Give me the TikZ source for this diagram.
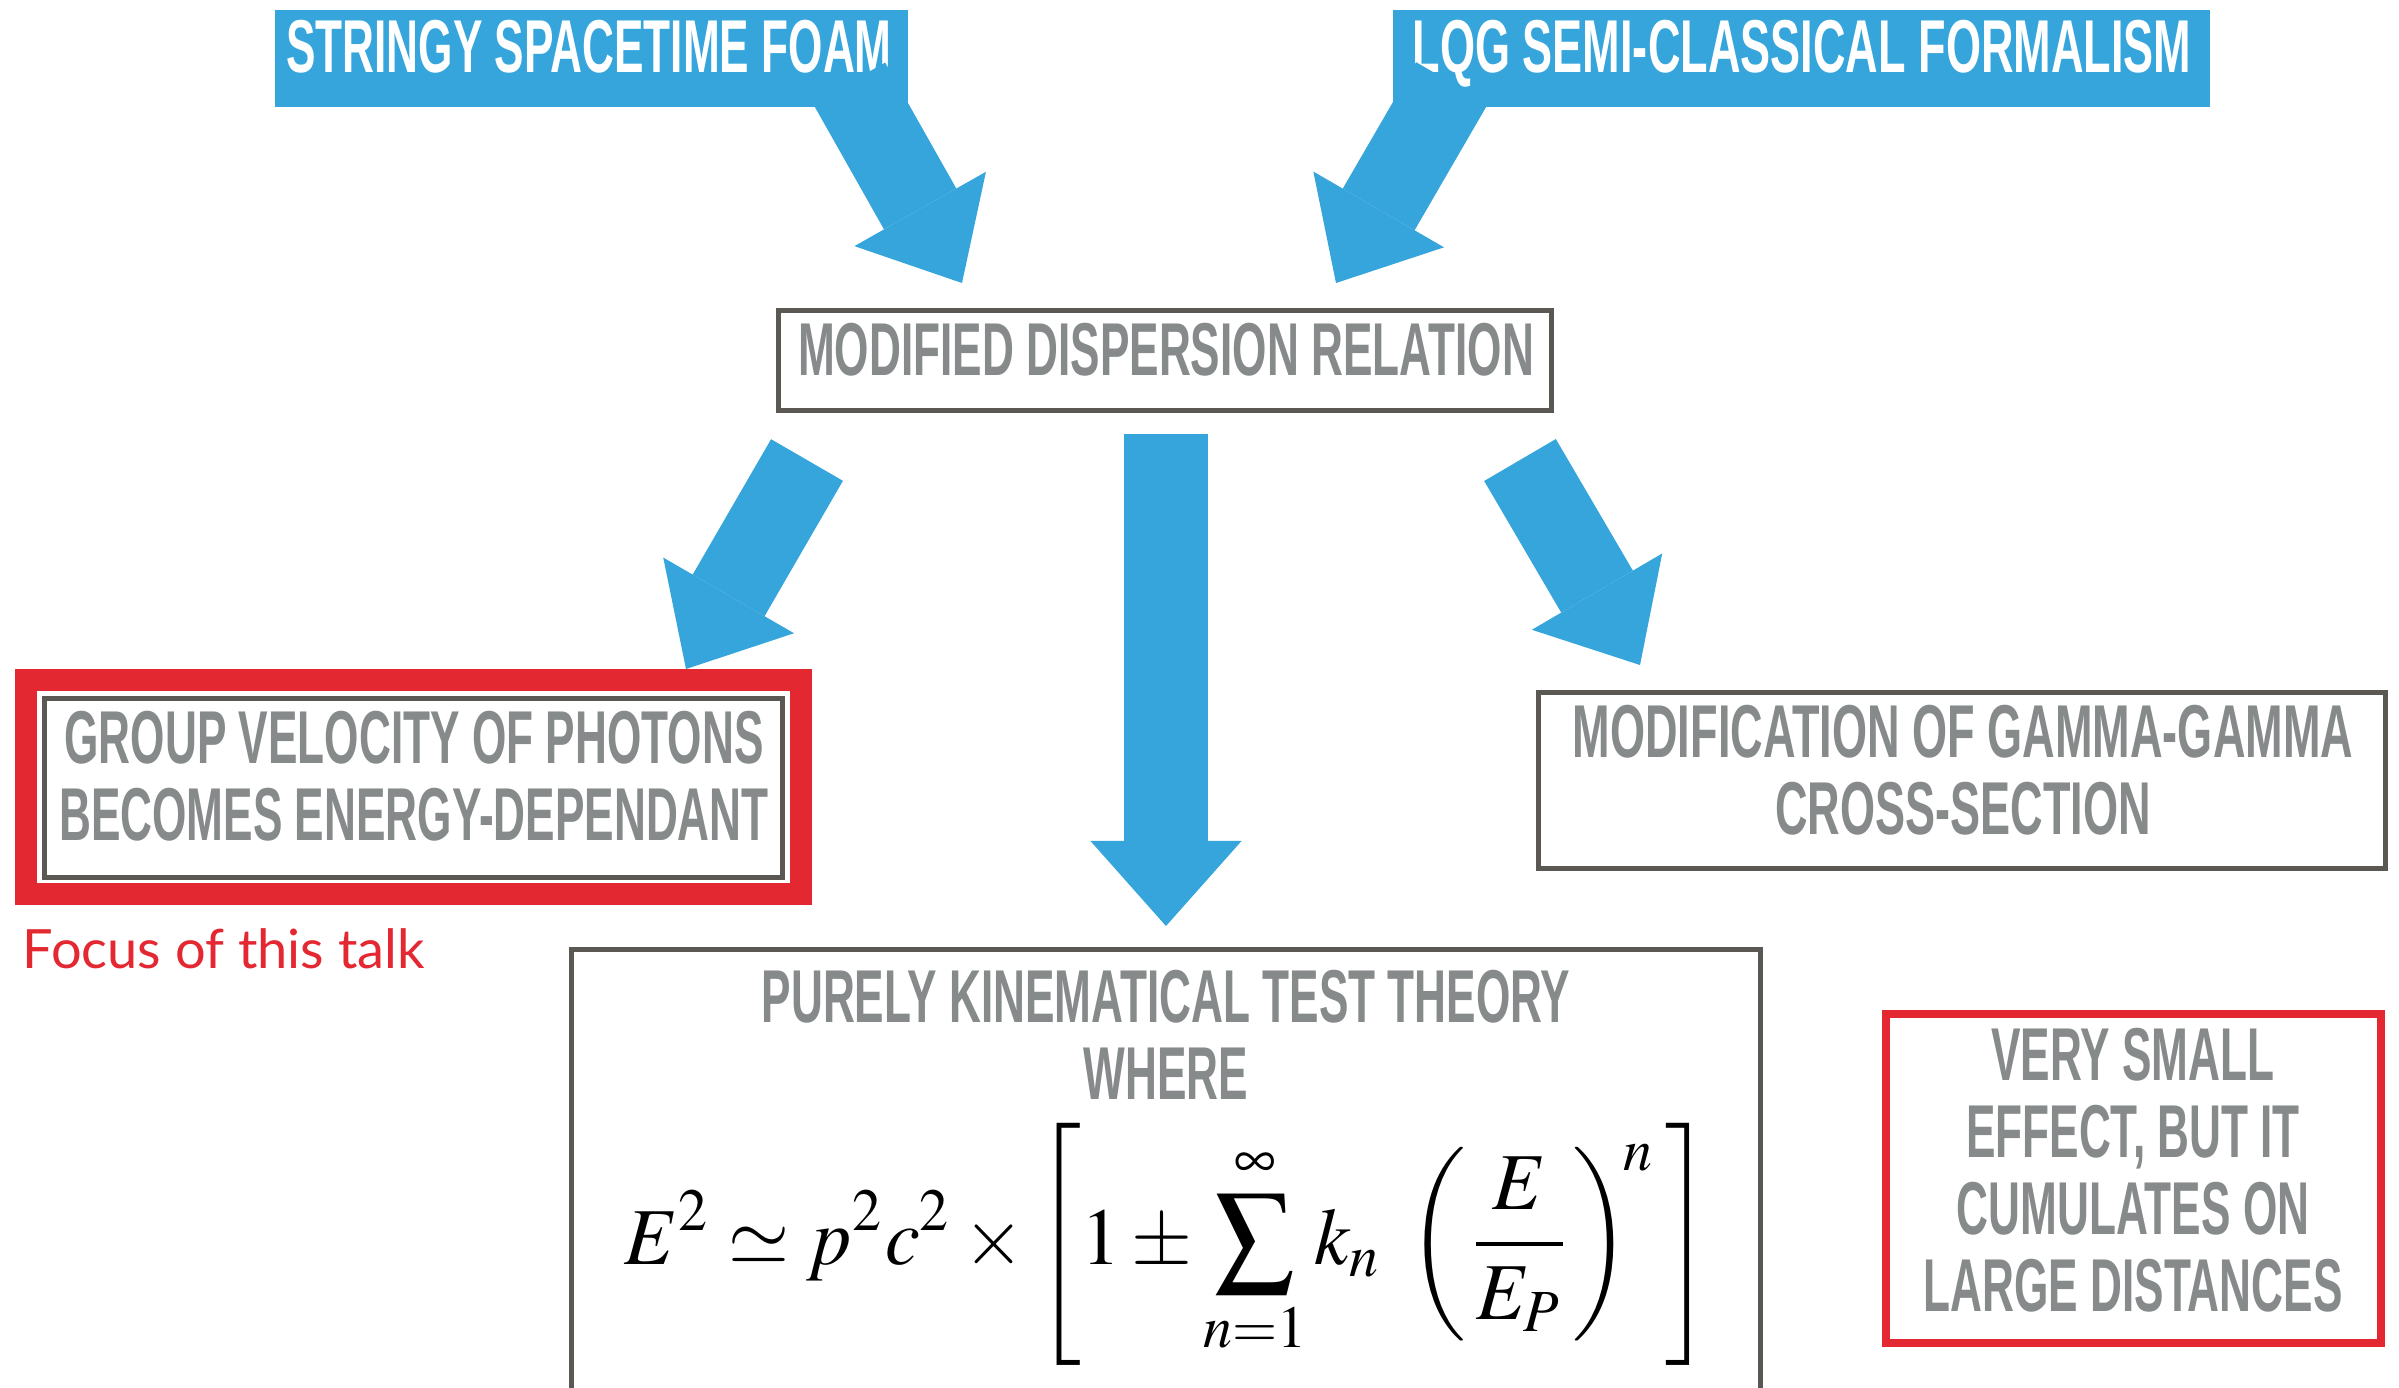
\documentclass[tikz,border=0pt]{standalone}
\usepackage{mathptmx}
\usepackage{fontspec}
\usepackage{graphicx}
\usetikzlibrary{arrows.meta}
\newfontfamily\dinfont{Liberation Sans}[FakeStretch=0.59]
\newfontfamily\focusfont{Lato}
\definecolor{skyb}{RGB}{53,165,219}
\definecolor{txtgray}{RGB}{134,138,138}
\definecolor{framegray}{RGB}{91,88,84}
\definecolor{hired}{RGB}{227,40,50}
\tikzset{
  bluebox/.style={fill=skyb, draw=none, inner sep=0pt, anchor=north west},
  graybox/.style={draw=framegray, line width=0.05cm, fill=white, inner sep=0pt},
  redframe/.style={draw=hired, inner sep=0pt},
  lbl/.style={inner sep=0pt, anchor=north, align=center, font=\dinfont\bfseries\fontsize{21.3}{21.9}\selectfont},
  whitelbl/.style={lbl, text=white},
  graylbl/.style={lbl, text=txtgray},
  fatarrow/.style={draw=skyb, line width=0.83cm, -{Triangle[length=0.85cm,width=1.51cm,line width=0pt]}},
}
\begin{document}
\begin{tikzpicture}[x=0.01cm, y=-0.01cm]
\clip (0,0) rectangle (2399,1387);
\fill[white] (0,0) rectangle (2399,1387);
% top source boxes
\node[bluebox, minimum width=6.33cm, minimum height=0.97cm] (sf) at (274,9) {};
\node[bluebox, minimum width=8.17cm, minimum height=0.97cm] (lqg) at (1392,9) {};
\node[whitelbl] (sft) at (589,19) {STRINGY SPACETIME FOAM};
\node[whitelbl, xscale=1.02] (lqgt) at (1802,19) {LQG SEMI-CLASSICAL FORMALISM};
% arrow end points
\coordinate (a1s) at (849,83);   \coordinate (a1e) at (962,283);
\coordinate (a2s) at (1452,83);  \coordinate (a2e) at (1336,283);
\coordinate (a3s) at (807,460);  \coordinate (a3e) at (686,669);
\coordinate (a4s) at (1520,460); \coordinate (a4e) at (1640,665);
\coordinate (a5s) at (1166,434); \coordinate (a5e) at (1166,926);
\draw[fatarrow] (a1s) -- (a1e);
\draw[fatarrow] (a2s) -- (a2e);
% central box
\node[graybox, minimum width=7.73cm, minimum height=1.00cm] (mdr) at (1165,360.5) {};
\node[graylbl] (mdrt) at (1166,322) {MODIFIED DISPERSION RELATION};
\draw[fatarrow] (a3s) -- (a3e);
\draw[fatarrow] (a4s) -- (a4e);
\draw[fatarrow] (a5s) -- (a5e);
% left highlighted box
\node[redframe, line width=0.22cm, minimum width=7.75cm, minimum height=2.14cm] (grpred) at (413.5,787) {};
\node[graybox, minimum width=7.38cm, minimum height=1.79cm] (grp) at (413.5,788) {};
\node[graylbl] (grpt) at (414,710) {GROUP VELOCITY OF PHOTONS\\BECOMES ENERGY-DEPENDANT};
\node[inner sep=0pt, anchor=base west, text=hired, font=\focusfont\fontsize{15.4}{17}\selectfont] (focus) at (22,968) {Focus of this talk};
% right box
\node[graybox, minimum width=8.47cm, minimum height=1.76cm] (gam) at (1962,780.5) {};
\node[graylbl, xscale=1.02] (gamt) at (1963,704) {MODIFICATION OF GAMMA-GAMMA\\CROSS-SECTION};
% bottom box
\node[graybox, minimum width=11.89cm, minimum height=5.505cm] (bot) at (1166,1224.75) {};
\node[graylbl] (bott) at (1166,969) {PURELY KINEMATICAL TEST THEORY\\WHERE};
\node[inner sep=0pt] (eq) at (1168,1244) {\resizebox*{10.86cm}{2.42cm}{$\displaystyle E^2 \simeq p^2c^2 \times \left[1 \pm \sum_{n=1}^{\infty} k_n\;\left(\frac{E}{E_P}\right)^{\!n}\,\right]$}};
% right remark box
\node[redframe, line width=0.08cm, minimum width=4.95cm, minimum height=3.29cm] (rem) at (2133.5,1178.5) {};
\node[graylbl] (remt) at (2133,1027) {VERY SMALL\\EFFECT, BUT IT\\CUMULATES ON\\LARGE DISTANCES};
\end{tikzpicture}
\end{document}
